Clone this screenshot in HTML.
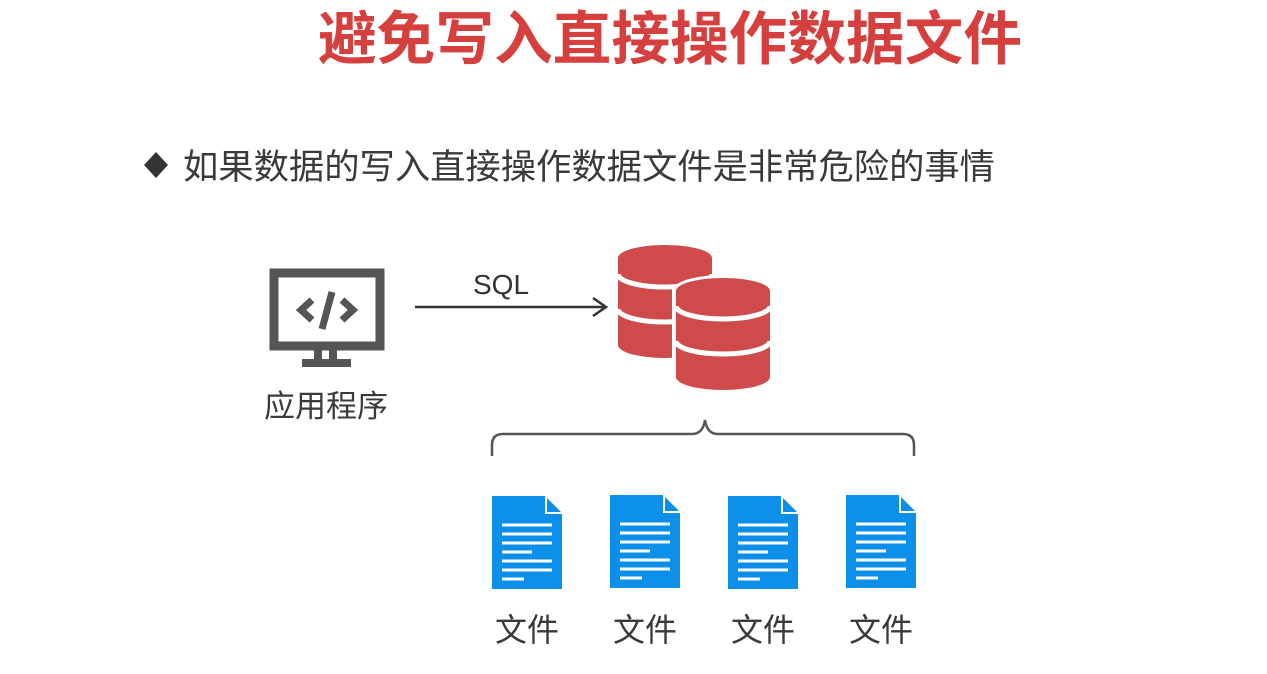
<!DOCTYPE html>
<html><head><meta charset="utf-8"><style>
html,body{margin:0;padding:0;background:#fff;}
svg{display:block;}
</style></head><body>
<svg width="1267" height="674" viewBox="0 0 1267 674" xmlns="http://www.w3.org/2000/svg">
<rect width="1267" height="674" fill="#fff"/>
<text x="670" y="59" text-anchor="middle" font-family="'Liberation Sans','Noto Sans CJK SC',sans-serif" font-weight="bold" font-size="58" fill="#d5403f" textLength="704" lengthAdjust="spacingAndGlyphs">避免写入直接操作数据文件</text>
<polygon points="156,152 168,165 156,178 144,165" fill="#333"/>
<text x="183" y="179" font-family="'Liberation Sans','Noto Sans CJK SC',sans-serif" font-size="35" fill="#3a3a3a" textLength="812" lengthAdjust="spacingAndGlyphs">如果数据的写入直接操作数据文件是非常危险的事情</text>
<rect x="274" y="273" width="106" height="73" fill="none" stroke="#555" stroke-width="9"/>
<rect x="314" y="350" width="8" height="10" fill="#555"/>
<rect x="329" y="350" width="8" height="10" fill="#555"/>
<rect x="302" y="359" width="49" height="8" fill="#555"/>
<polyline points="312,300 301,310 312,320" fill="none" stroke="#555" stroke-width="7"/>
<polyline points="342,300 353,310 342,320" fill="none" stroke="#555" stroke-width="7"/>
<line x1="332" y1="292" x2="322" y2="329" stroke="#555" stroke-width="7"/>
<text x="326" y="417" text-anchor="middle" font-family="'Liberation Sans','Noto Sans CJK SC',sans-serif" font-size="31" fill="#3a3a3a">应用程序</text>
<line x1="415" y1="307" x2="605" y2="307" stroke="#333" stroke-width="2.5"/>
<polyline points="593,298 606,307 593,316" fill="none" stroke="#333" stroke-width="2.5"/>
<text x="501" y="294" text-anchor="middle" font-family="'Liberation Sans',sans-serif" font-size="28" fill="#333">SQL</text>
<path d="M618,258 A47,13 0 0 1 712,258 L712,345 A47,13 0 0 1 618,345 Z" fill="#cf4a4a"/>
<g stroke="#fff" stroke-width="5" fill="none">
<path d="M618,274 A47,13 0 0 0 712,274"/>
<path d="M618,309 A47,13 0 0 0 712,309"/>
</g>
<path d="M672,291 A51,16 0 0 1 774,291 L774,380 A51,16 0 0 1 672,380 Z" fill="#fff"/>
<path d="M676,291 A47,13 0 0 1 770,291 L770,377 A47,13 0 0 1 676,377 Z" fill="#cf4a4a"/>
<g stroke="#fff" stroke-width="5" fill="none">
<path d="M676,306 A47,13 0 0 0 770,306"/>
<path d="M676,341 A47,13 0 0 0 770,341"/>
</g>
<path d="M492,456 L492,445 Q492,434 503,434 L692,434 Q703,434 705,420 Q707,434 718,434 L903,434 Q914,434 914,445 L914,456" fill="none" stroke="#555" stroke-width="2.5"/>
<g font-family="'Liberation Sans','Noto Sans CJK SC',sans-serif" font-size="32" fill="#3a3a3a" text-anchor="middle">
<g transform="translate(492,496)">
<path d="M0,0 L53,0 L70,17 L70,93 L0,93 Z" fill="#0b8fe8"/>
<path d="M54,0 L54,17 L70,17" fill="none" stroke="#fff" stroke-width="2"/>
<g stroke="#fff" stroke-width="3"><line x1="10" y1="29" x2="60" y2="29"/><line x1="10" y1="38" x2="60" y2="38"/><line x1="10" y1="47" x2="60" y2="47"/><line x1="10" y1="56" x2="40" y2="56"/><line x1="10" y1="65" x2="60" y2="65"/><line x1="10" y1="74" x2="60" y2="74"/><line x1="10" y1="83" x2="32" y2="83"/></g>
<text x="35" y="145">文件</text></g>
<g transform="translate(610,495)">
<path d="M0,0 L53,0 L70,17 L70,93 L0,93 Z" fill="#0b8fe8"/>
<path d="M54,0 L54,17 L70,17" fill="none" stroke="#fff" stroke-width="2"/>
<g stroke="#fff" stroke-width="3"><line x1="10" y1="29" x2="60" y2="29"/><line x1="10" y1="38" x2="60" y2="38"/><line x1="10" y1="47" x2="60" y2="47"/><line x1="10" y1="56" x2="40" y2="56"/><line x1="10" y1="65" x2="60" y2="65"/><line x1="10" y1="74" x2="60" y2="74"/><line x1="10" y1="83" x2="32" y2="83"/></g>
<text x="35" y="146">文件</text></g>
<g transform="translate(728,496)">
<path d="M0,0 L53,0 L70,17 L70,93 L0,93 Z" fill="#0b8fe8"/>
<path d="M54,0 L54,17 L70,17" fill="none" stroke="#fff" stroke-width="2"/>
<g stroke="#fff" stroke-width="3"><line x1="10" y1="29" x2="60" y2="29"/><line x1="10" y1="38" x2="60" y2="38"/><line x1="10" y1="47" x2="60" y2="47"/><line x1="10" y1="56" x2="40" y2="56"/><line x1="10" y1="65" x2="60" y2="65"/><line x1="10" y1="74" x2="60" y2="74"/><line x1="10" y1="83" x2="32" y2="83"/></g>
<text x="35" y="145">文件</text></g>
<g transform="translate(846,495)">
<path d="M0,0 L53,0 L70,17 L70,93 L0,93 Z" fill="#0b8fe8"/>
<path d="M54,0 L54,17 L70,17" fill="none" stroke="#fff" stroke-width="2"/>
<g stroke="#fff" stroke-width="3"><line x1="10" y1="29" x2="60" y2="29"/><line x1="10" y1="38" x2="60" y2="38"/><line x1="10" y1="47" x2="60" y2="47"/><line x1="10" y1="56" x2="40" y2="56"/><line x1="10" y1="65" x2="60" y2="65"/><line x1="10" y1="74" x2="60" y2="74"/><line x1="10" y1="83" x2="32" y2="83"/></g>
<text x="35" y="146">文件</text></g>
</g>
</svg>
</body></html>
